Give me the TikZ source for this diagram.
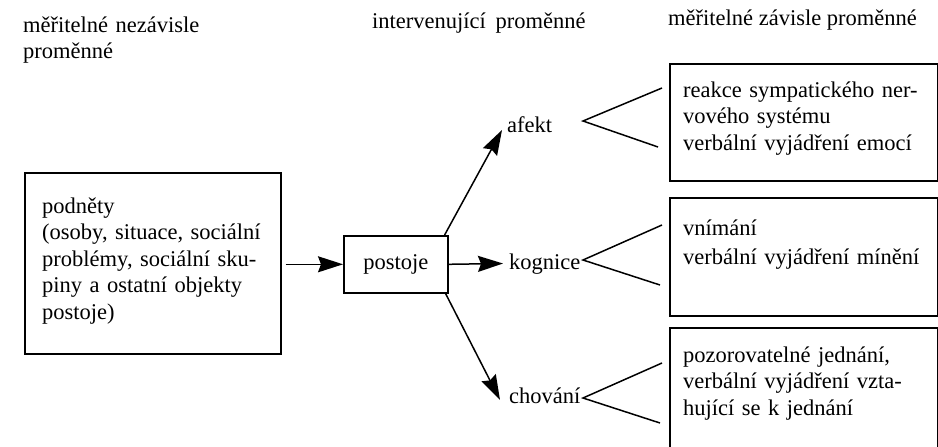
\documentclass[tikz,border=0pt]{standalone}
\usepackage{fontspec}
\setmainfont{Liberation Serif}
\usetikzlibrary{arrows.meta}
\begin{document}
\begin{tikzpicture}[x=1pt,y=-1pt,
  every node/.style={font=\fontsize{22.5}{26.5}\selectfont},
  box/.style={draw, line width=1.6pt, inner sep=0pt, anchor=north west},
  txt/.style={inner sep=0pt, anchor=base west, align=left},
  lbl/.style={inner sep=0pt, anchor=base west},
  arr/.style={line width=1.5pt, -{Stealth[length=25pt,width=16pt,inset=3pt]}},
  fork/.style={line width=1.5pt}
]
\useasboundingbox (0,0) rectangle (938,447);
\clip (0,0) rectangle (938,447);

% headers
\node[txt, text width=200pt] (h1) at (23,32) {měřitelné nezávisle\\proměnné};
\node[lbl] (h2) at (372,28) {intervenující\hspace{4pt} proměnné};
\node[lbl] (h3) at (668,25) {měřitelné závisle proměnné};

% left box
\node[box, minimum width=256pt, minimum height=181pt] (lbox) at (24,172) {};
\node[txt, text width=235pt] (ltext) at (42,213)
  {podněty\\(osoby, situace, sociální\\problémy, sociální sku-\\piny a ostatní objekty\\postoje)};

% postoje
\node[box, minimum width=104pt, minimum height=57pt] (pbox) at (343,235) {};
\node[inner sep=0pt] (ptext) at (pbox.center) {postoje};

% intervening labels
\node[lbl] (afekt) at (507,132) {afekt};
\node[lbl] (kog) at (509,269) {kognice};
\node[lbl] (chov) at (509,403) {chování};
\coordinate (ktip) at (503,263.5);

% right boxes
\node[box, minimum width=268pt, minimum height=117pt] (r1) at (669,63) {};
\node[box, minimum width=268pt, minimum height=118pt] (r2) at (669,197) {};
\node[box, minimum width=268pt, minimum height=140pt] (r3) at (669,327) {};

\node[txt, text width=250pt] (t1) at (683,97)
  {reakce sympatického ner-\\vového systému\\verbální vyjádření emocí};
\node[txt, text width=250pt] (t2) at (683,235)
  {vnímání\\[3pt]verbální vyjádření mínění};
\node[txt, text width=250pt] (t3) at (683,362)
  {pozorovatelné jednání,\\verbální vyjádření vzta-\\hující se k jednání};

% arrows
\draw[arr, shorten <=4pt] (lbox.east |- pbox.west) -- (pbox.west);
\draw[arr] (pbox.east) -- (ktip);
\draw[arr] ([xshift=-4pt]pbox.north east) -- ([xshift=-5pt,yshift=2pt]afekt.base west);
\draw[arr] ([xshift=-3pt]pbox.south east) -- ([xshift=-9pt,yshift=3pt]chov.base west);

% forks
\coordinate (fa) at (583,121);
\coordinate (fa1) at (662,88);
\coordinate (fa2) at (658,147);
\coordinate (fk) at (583,260);
\coordinate (fk1) at (662,225);
\coordinate (fk2) at (660,285);
\coordinate (fc) at (583,398);
\coordinate (fc1) at (662,363);
\coordinate (fc2) at (660,423);
\draw[fork] (fa1) -- (fa) -- (fa2);
\draw[fork] (fk1) -- (fk) -- (fk2);
\draw[fork] (fc1) -- (fc) -- (fc2);
\end{tikzpicture}
\end{document}
